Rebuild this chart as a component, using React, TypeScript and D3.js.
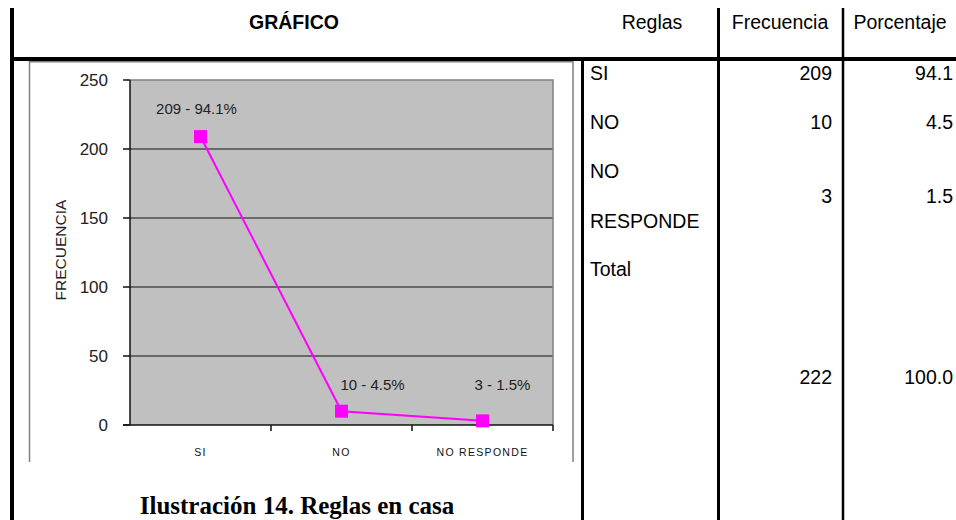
import React from "react";
import * as d3 from "d3";

const categories = ["SI", "NO", "NO RESPONDE"];
const frecuencia = [209, 10, 3];
const porcentaje = [94.1, 4.5, 1.5];
const yTicks = [0, 50, 100, 150, 200, 250];
const tableLabels = [["SI"], ["NO"], ["NO", "RESPONDE"]];
const totalLabel = "Total";
const totalFrecuencia = 222;
const totalPorcentaje = 100.0;
const headers = ["GRÁFICO", "Reglas", "Frecuencia", "Porcentaje"];
const caption = "Ilustración 14. Reglas en casa";
const yTitle = "FRECUENCIA";

// layout
const W = 956;
const H = 520;
const PL = 130, PR = 553, PT = 80, PB = 425;
const labelOffsets = [[-4, -28], [31, -26], [20, -36]];
const labelRowY = [[80], [129], [178, 228]];
const valueRowY = [80, 129, 203];
const MAGENTA = "#ff00ff";

export default function App() {
  const x = d3.scaleBand<string>().domain(categories).range([PL, PR]).padding(0);
  const y = d3.scaleLinear().domain([0, 250]).range([PB, PT]);
  const cx = (c: string) => (x(c) as number) + x.bandwidth() / 2;
  const pts: [number, number][] = categories.map((c, i) => [cx(c), y(frecuencia[i])]);
  const line = d3.line()(pts) as string;
  const boundaries = categories.map((c) => (x(c) as number) + x.bandwidth());

  const sans = "'Liberation Sans', Arial, sans-serif";
  const bodyFont = 19.5;

  return (
    <svg width={W} height={H} style={{ position: "absolute", left: 0, top: 0, background: "#fff" }}>
      {/* table frame */}
      <line x1={12} y1={8} x2={12} y2={H} stroke="#000" strokeWidth={4} />
      <line x1={10} y1={59} x2={W} y2={59} stroke="#000" strokeWidth={4} />
      <line x1={718.5} y1={8} x2={718.5} y2={H} stroke="#000" strokeWidth={3} />
      <line x1={843} y1={8} x2={843} y2={H} stroke="#000" strokeWidth={2.5} />
      <line x1={582.5} y1={59} x2={582.5} y2={H} stroke="#000" strokeWidth={3} />

      {/* headers */}
      <text x={294} y={28.5} textAnchor="middle" fontFamily={sans} fontWeight="bold" fontSize={19.5}>{headers[0]}</text>
      <text x={652} y={28.5} textAnchor="middle" fontFamily={sans} fontSize={bodyFont}>{headers[1]}</text>
      <text x={780} y={28.5} textAnchor="middle" fontFamily={sans} fontSize={bodyFont}>{headers[2]}</text>
      <text x={900} y={28.5} textAnchor="middle" fontFamily={sans} fontSize={bodyFont}>{headers[3]}</text>

      {/* chart box */}
      <path d={`M29.5,462 V61.75 H573 V462`} fill="none" stroke="#808080" strokeWidth={1.5} />

      {/* plot area */}
      <rect x={PL} y={PT} width={PR - PL} height={PB - PT} fill="#c0c0c0" />
      {yTicks.filter((t) => t > 0 && t < 250).map((t) => (
        <line key={t} x1={PL} x2={PR} y1={y(t)} y2={y(t)} stroke="#111" strokeWidth={1.2} />
      ))}
      <path d={`M${PL},${PT} H${PR} V${PB}`} fill="none" stroke="#808080" strokeWidth={1.5} />
      <line x1={PL} x2={PL} y1={PT} y2={PB} stroke="#111" strokeWidth={1.5} />
      <line x1={123} x2={PR} y1={PB} y2={PB} stroke="#111" strokeWidth={1.5} />
      {yTicks.map((t) => (
        <g key={t}>
          <line x1={123} x2={PL} y1={y(t)} y2={y(t)} stroke="#111" strokeWidth={1.5} />
          <text x={108} y={y(t)} dy="0.36em" textAnchor="end" fontFamily={sans} fontSize={17} fill="#222">{t}</text>
        </g>
      ))}
      {boundaries.map((b, i) => (
        <line key={i} x1={b} x2={b} y1={PB} y2={PB + 6} stroke="#111" strokeWidth={1.5} />
      ))}
      {categories.map((c) => (
        <text key={c} x={cx(c)} y={455.5} textAnchor="middle" fontFamily={sans} fontSize={10.5} letterSpacing={1.3} fill="#111">{c}</text>
      ))}
      <text transform={`translate(66,250) rotate(-90)`} textAnchor="middle" fontFamily={sans} fontSize={15.5} fill="#222">{yTitle}</text>

      {/* series */}
      <path d={line} fill="none" stroke={MAGENTA} strokeWidth={2} />
      {pts.map(([px, py], i) => (
        <rect key={i} x={px - 6.5} y={py - 6.5} width={13} height={13} fill={MAGENTA} />
      ))}
      {pts.map(([px, py], i) => (
        <text key={i} x={px + labelOffsets[i][0]} y={py + labelOffsets[i][1]} dy="0.35em" textAnchor="middle" fontFamily={sans} fontSize={15} fill="#222">
          {`${frecuencia[i]} - ${porcentaje[i]}%`}
        </text>
      ))}

      {/* table body */}
      {tableLabels.map((lines, i) =>
        lines.map((l, j) => (
          <text key={`${i}-${j}`} x={590} y={labelRowY[i][j]} fontFamily={sans} fontSize={bodyFont}>{l}</text>
        ))
      )}
      <text x={590} y={276} fontFamily={sans} fontSize={bodyFont}>{totalLabel}</text>
      {frecuencia.map((f, i) => (
        <text key={i} x={832} y={valueRowY[i]} textAnchor="end" fontFamily={sans} fontSize={bodyFont}>{f}</text>
      ))}
      {porcentaje.map((p, i) => (
        <text key={i} x={953} y={valueRowY[i]} textAnchor="end" fontFamily={sans} fontSize={bodyFont}>{p.toFixed(1)}</text>
      ))}
      <text x={832} y={384} textAnchor="end" fontFamily={sans} fontSize={bodyFont}>{totalFrecuencia}</text>
      <text x={953} y={384} textAnchor="end" fontFamily={sans} fontSize={bodyFont}>{totalPorcentaje.toFixed(1)}</text>

      {/* caption */}
      <text x={297} y={514} textAnchor="middle" fontFamily="'Liberation Serif', 'Times New Roman', serif" fontWeight="bold" fontSize={25}>{caption}</text>
    </svg>
  );
}
